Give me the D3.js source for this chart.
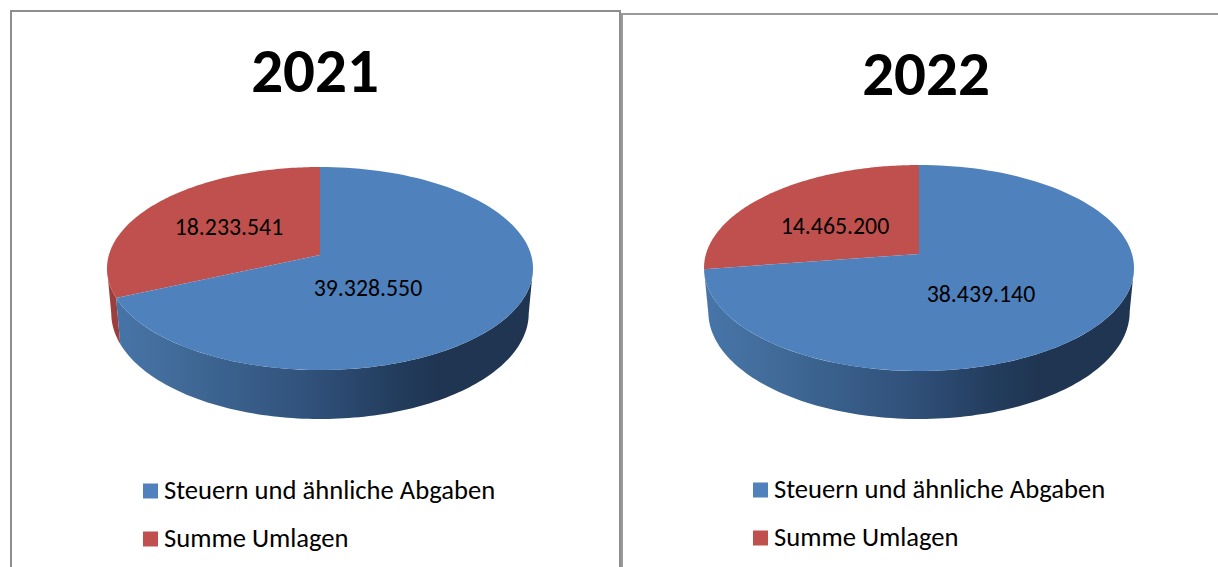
<!DOCTYPE html>
<html><head><meta charset="utf-8">
<script src="https://cdn.jsdelivr.net/npm/d3@7"></script>
<style>html,body{margin:0;padding:0;background:#fff;overflow:hidden}svg{display:block}text{font-family:Carlito,"Open Sans","Noto Sans",sans-serif;fill:#000}</style>
</head><body><svg id="c" width="1218" height="567"></svg>
<script>
const years = ["2021", "2022"];
const categories = ["Summe Umlagen", "Steuern und ähnliche Abgaben"];
const labels2021 = ["18.233.541", "39.328.550"];
const labels2022 = ["14.465.200", "38.439.140"];
const values2021 = [18233541, 39328550];
const values2022 = [14465200, 38439140];
const colors = ["#c0504d", "#4f81bd"];
const legendOrder = [1, 0];

const layouts = [
 {year:years[0],values:values2021,labels:labels2021,cx:320,apex:255,rx:213,top:167,bot:370,depth:49,
  frame:[11,620,11],frameColor:"#8e8e8e",titleX:315,titleY:92,labelPos:[[229,235],[368,296]],legX:143,legY:[491,539]},
 {year:years[1],values:values2022,labels:labels2022,cx:919,apex:254,rx:215,top:165,bot:371,depth:48,
  frame:[622,1240,14],frameColor:"#9a9a9a",titleX:926,titleY:95,labelPos:[[835,234],[981,302]],legX:753,legY:[490,538]}
];
const svg = d3.select("#c");
const defs = svg.append("defs");
layouts.forEach((L,i)=>{
  const g = svg.append("g");
  g.append("path").attr("d",`M${L.frame[0]},567V${L.frame[2]}H${L.frame[1]}V567`).attr("fill","none").attr("stroke",L.frameColor).attr("stroke-width",2);
  g.append("text").attr("x",L.titleX).attr("y",L.titleY).attr("text-anchor","middle").attr("font-size",63).attr("font-weight",700).text(L.year);

  // projective mapping of the unit disc onto the tilted top face
  const up=L.apex-L.top, dn=L.bot-L.apex;
  const a=(up-dn)/(up+dn), b=dn*(1+a), R=L.rx*Math.sqrt(1-a*a);
  const px=t=>{const u=Math.sin(t),v=-Math.cos(t);return [L.cx+R*u/(1+a*v), L.apex+b*v/(1+a*v)];};
  // lower rim: slightly narrower, and deeper toward the viewer
  const low=t=>{const p=px(t),v=Math.max(0,-Math.cos(t));return [L.cx+(p[0]-L.cx)*0.98,p[1]+L.depth-5*(1-v)];};
  const arcs=d3.pie().sort(null).value(d=>d)(L.values);
  const line=d3.line();
  const samples=(s,e)=>d3.range(0,121).map(k=>s+(e-s)*k/120);

  const grad="side"+i;
  const lg=defs.append("linearGradient").attr("id",grad).attr("gradientUnits","userSpaceOnUse")
    .attr("x1",L.cx-L.rx).attr("x2",L.cx+L.rx).attr("y1",0).attr("y2",0);
  [[0,"#4775aa"],[.1,"#44709f"],[.5,"#2f4f78"],[.66,"#243e5f"],[.78,"#1f3552"],[1,"#1f3552"]].forEach(s=>lg.append("stop").attr("offset",s[0]).attr("stop-color",s[1]));

  const wall=(s,e)=>{
    const ts=samples(s,e);
    return line(ts.map(px).concat(ts.map(low).reverse()))+"Z";
  };
  const redEdge=-arcs[0].endAngle;      // slice boundary on the left of the disc
  const extreme=Math.acos(a);           // angle of the widest point of the top face
  if(redEdge<-extreme) g.append("path").attr("d",wall(-extreme,redEdge)).attr("fill","#9c3f3c");
  g.append("path").attr("d",wall(Math.min(redEdge,-extreme),-2*Math.PI+extreme)).attr("fill",`url(#${grad})`);

  arcs.forEach((d,j)=>{
    const pts=[[L.cx,L.apex]].concat(samples(-d.startAngle,-d.endAngle).map(px));
    g.append("path").attr("d",line(pts)+"Z").attr("fill",colors[j]);
  });
  L.labelPos.forEach((p,j)=>{
    g.append("text").attr("x",p[0]).attr("y",p[1]).attr("text-anchor","middle").attr("font-size",23.8).text(L.labels[j]);
  });
  legendOrder.forEach((c,j)=>{
    g.append("rect").attr("x",L.legX).attr("y",L.legY[j]-7.5).attr("width",15).attr("height",15).attr("fill",colors[c]);
    g.append("text").attr("x",L.legX+21).attr("y",L.legY[j]+8).attr("font-size",26.6).text(categories[c]);
  });
});
</script></body></html>
